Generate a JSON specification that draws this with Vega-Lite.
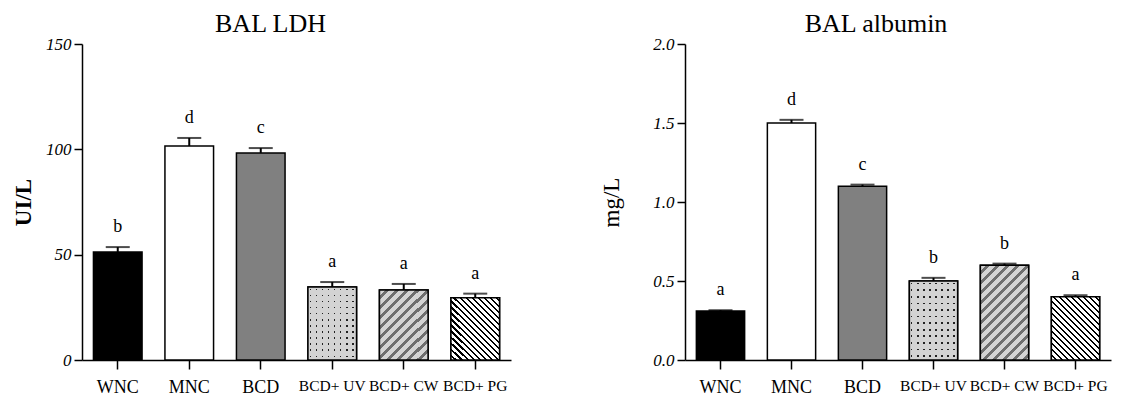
{
  "$schema": "https://vega.github.io/schema/vega-lite/v6.json",
  "background": "white",
  "padding": {"left": 12, "top": 11, "right": 5, "bottom": 0},
  "spacing": 89,
  "config": {
    "font": "Liberation Serif",
    "view": {"stroke": null},
    "axis": {"domainColor": "black", "domainWidth": 1.5, "tickColor": "black", "tickWidth": 1.5, "labelColor": "black", "titleColor": "black", "grid": false, "labelFont": "Liberation Serif", "titleFont": "Liberation Serif"},
    "axisY": {"labelFontSize": 17, "labelFontStyle": "italic", "tickSize": 8, "labelPadding": 3, "titleFontSize": 23},
    "axisX": {"labelAngle": 0, "tickSize": 9, "labelPadding": 9, "labelFontSize": {"condition": {"test": "length(datum.label) > 4", "value": 15.5}, "value": 18}},
    "title": {"font": "Liberation Serif", "fontSize": 26, "fontWeight": "normal", "color": "black"}
  },
  "datasets": {
    "d": [
      {"panel": "LDH", "group": "WNC", "mean": 51.3, "err": 53.6, "letter": "b"},
      {"panel": "LDH", "group": "MNC", "mean": 101.6, "err": 105.4, "letter": "d"},
      {"panel": "LDH", "group": "BCD", "mean": 98.3, "err": 100.6, "letter": "c"},
      {"panel": "LDH", "group": "BCD+ UV", "mean": 34.7, "err": 37.0, "letter": "a"},
      {"panel": "LDH", "group": "BCD+ CW", "mean": 33.2, "err": 36.1, "letter": "a"},
      {"panel": "LDH", "group": "BCD+ PG", "mean": 29.5, "err": 31.5, "letter": "a"},
      {"panel": "ALB", "group": "WNC", "mean": 0.31, "err": 0.315, "letter": "a"},
      {"panel": "ALB", "group": "MNC", "mean": 1.50, "err": 1.52, "letter": "d"},
      {"panel": "ALB", "group": "BCD", "mean": 1.10, "err": 1.11, "letter": "c"},
      {"panel": "ALB", "group": "BCD+ UV", "mean": 0.50, "err": 0.52, "letter": "b"},
      {"panel": "ALB", "group": "BCD+ CW", "mean": 0.60, "err": 0.61, "letter": "b"},
      {"panel": "ALB", "group": "BCD+ PG", "mean": 0.40, "err": 0.41, "letter": "a"}
    ]
  },
  "hconcat": [
    {
      "width": 429,
      "height": 316,
      "title": {"text": "BAL LDH", "dx": -26, "dy": 6},
      "data": {"name": "d"},
      "transform": [{"filter": "datum.panel === 'LDH'"}],
      "encoding": {
        "x": {"field": "group", "type": "nominal",
          "scale": {"domain": ["WNC", "MNC", "BCD", "BCD+ UV", "BCD+ CW", "BCD+ PG"], "paddingInner": 0.32, "paddingOuter": 0.16},
          "axis": {"title": null}}
      },
      "layer": [
        {
          "mark": {"type": "bar", "stroke": "black", "strokeWidth": 1.5},
          "encoding": {
            "y": {"field": "mean", "type": "quantitative", "scale": {"domain": [0, 150], "nice": false},
              "axis": {"title": "UI/L", "titleFontWeight": "bold", "titlePadding": 10, "labelFontSize": 17, "values": [0, 50, 100, 150]}},
            "fill": {"field": "group", "type": "nominal", "legend": null,
              "scale": {"domain": ["WNC", "MNC", "BCD", "BCD+ UV", "BCD+ CW", "BCD+ PG"], "range": ["#000000", "#ffffff", "#808080", "#222222", "#d3d3d3", "#ffffff"]}}
          }
        },
        {
          "transform": [{"filter": "datum.group === 'BCD+ UV'"}],
          "mark": {"type": "bar", "strokeWidth": 0, "fill": {"gradient": "linear", "x1": 0, "y1": -0.04, "x2": 0, "y2": 0.96, "stops": [
            {"offset": 0, "color": "#d3d3d3"}, {"offset": 0.0625, "color": "#d3d3d3"}, {"offset": 0.0625, "color": "rgba(0,0,0,0)"}, {"offset": 0.0833, "color": "rgba(0,0,0,0)"},
            {"offset": 0.0833, "color": "#d3d3d3"}, {"offset": 0.1458, "color": "#d3d3d3"}, {"offset": 0.1458, "color": "rgba(0,0,0,0)"}, {"offset": 0.1667, "color": "rgba(0,0,0,0)"},
            {"offset": 0.1667, "color": "#d3d3d3"}, {"offset": 0.2292, "color": "#d3d3d3"}, {"offset": 0.2292, "color": "rgba(0,0,0,0)"}, {"offset": 0.25, "color": "rgba(0,0,0,0)"},
            {"offset": 0.25, "color": "#d3d3d3"}, {"offset": 0.3125, "color": "#d3d3d3"}, {"offset": 0.3125, "color": "rgba(0,0,0,0)"}, {"offset": 0.3333, "color": "rgba(0,0,0,0)"},
            {"offset": 0.3333, "color": "#d3d3d3"}, {"offset": 0.3958, "color": "#d3d3d3"}, {"offset": 0.3958, "color": "rgba(0,0,0,0)"}, {"offset": 0.4167, "color": "rgba(0,0,0,0)"},
            {"offset": 0.4167, "color": "#d3d3d3"}, {"offset": 0.4792, "color": "#d3d3d3"}, {"offset": 0.4792, "color": "rgba(0,0,0,0)"}, {"offset": 0.5, "color": "rgba(0,0,0,0)"},
            {"offset": 0.5, "color": "#d3d3d3"}, {"offset": 0.5625, "color": "#d3d3d3"}, {"offset": 0.5625, "color": "rgba(0,0,0,0)"}, {"offset": 0.5833, "color": "rgba(0,0,0,0)"},
            {"offset": 0.5833, "color": "#d3d3d3"}, {"offset": 0.6458, "color": "#d3d3d3"}, {"offset": 0.6458, "color": "rgba(0,0,0,0)"}, {"offset": 0.6667, "color": "rgba(0,0,0,0)"},
            {"offset": 0.6667, "color": "#d3d3d3"}, {"offset": 0.7292, "color": "#d3d3d3"}, {"offset": 0.7292, "color": "rgba(0,0,0,0)"}, {"offset": 0.75, "color": "rgba(0,0,0,0)"},
            {"offset": 0.75, "color": "#d3d3d3"}, {"offset": 0.8125, "color": "#d3d3d3"}, {"offset": 0.8125, "color": "rgba(0,0,0,0)"}, {"offset": 0.8333, "color": "rgba(0,0,0,0)"},
            {"offset": 0.8333, "color": "#d3d3d3"}, {"offset": 0.8958, "color": "#d3d3d3"}, {"offset": 0.8958, "color": "rgba(0,0,0,0)"}, {"offset": 0.9167, "color": "rgba(0,0,0,0)"},
            {"offset": 0.9167, "color": "#d3d3d3"}, {"offset": 0.9792, "color": "#d3d3d3"}, {"offset": 0.9792, "color": "rgba(0,0,0,0)"}, {"offset": 1, "color": "rgba(0,0,0,0)"},
            {"offset": 1, "color": "#d3d3d3"}
          ]}},
          "encoding": {"y": {"field": "mean", "type": "quantitative"}}
        },
        {
          "transform": [{"filter": "datum.group === 'BCD+ UV'"}],
          "mark": {"type": "bar", "stroke": "black", "strokeWidth": 1.5, "fill": {"gradient": "linear", "x1": -0.06, "y1": 0, "x2": 0.94, "y2": 0, "stops": [
            {"offset": 0, "color": "#d3d3d3"}, {"offset": 0.094, "color": "#d3d3d3"}, {"offset": 0.094, "color": "rgba(0,0,0,0)"}, {"offset": 0.125, "color": "rgba(0,0,0,0)"},
            {"offset": 0.125, "color": "#d3d3d3"}, {"offset": 0.219, "color": "#d3d3d3"}, {"offset": 0.219, "color": "rgba(0,0,0,0)"}, {"offset": 0.25, "color": "rgba(0,0,0,0)"},
            {"offset": 0.25, "color": "#d3d3d3"}, {"offset": 0.344, "color": "#d3d3d3"}, {"offset": 0.344, "color": "rgba(0,0,0,0)"}, {"offset": 0.375, "color": "rgba(0,0,0,0)"},
            {"offset": 0.375, "color": "#d3d3d3"}, {"offset": 0.469, "color": "#d3d3d3"}, {"offset": 0.469, "color": "rgba(0,0,0,0)"}, {"offset": 0.5, "color": "rgba(0,0,0,0)"},
            {"offset": 0.5, "color": "#d3d3d3"}, {"offset": 0.594, "color": "#d3d3d3"}, {"offset": 0.594, "color": "rgba(0,0,0,0)"}, {"offset": 0.625, "color": "rgba(0,0,0,0)"},
            {"offset": 0.625, "color": "#d3d3d3"}, {"offset": 0.719, "color": "#d3d3d3"}, {"offset": 0.719, "color": "rgba(0,0,0,0)"}, {"offset": 0.75, "color": "rgba(0,0,0,0)"},
            {"offset": 0.75, "color": "#d3d3d3"}, {"offset": 0.844, "color": "#d3d3d3"}, {"offset": 0.844, "color": "rgba(0,0,0,0)"}, {"offset": 0.875, "color": "rgba(0,0,0,0)"},
            {"offset": 0.875, "color": "#d3d3d3"}, {"offset": 0.969, "color": "#d3d3d3"}, {"offset": 0.969, "color": "rgba(0,0,0,0)"}, {"offset": 1, "color": "rgba(0,0,0,0)"},
            {"offset": 1, "color": "#d3d3d3"}
          ]}},
          "encoding": {"y": {"field": "mean", "type": "quantitative"}}
        },
        {
          "transform": [{"filter": "datum.group === 'BCD+ CW'"}],
          "mark": {"type": "bar", "stroke": "black", "strokeWidth": 1.5, "fill": {"gradient": "linear", "x1": 0, "y1": 0, "x2": 1.2, "y2": 1.75, "stops": [
            {"offset": 0, "color": "#d3d3d3"}, {"offset": 0.0333, "color": "#d3d3d3"}, {"offset": 0.0333, "color": "#6e6e6e"}, {"offset": 0.0556, "color": "#6e6e6e"},
            {"offset": 0.0556, "color": "#d3d3d3"}, {"offset": 0.0889, "color": "#d3d3d3"}, {"offset": 0.0889, "color": "#6e6e6e"}, {"offset": 0.1111, "color": "#6e6e6e"},
            {"offset": 0.1111, "color": "#d3d3d3"}, {"offset": 0.1444, "color": "#d3d3d3"}, {"offset": 0.1444, "color": "#6e6e6e"}, {"offset": 0.1667, "color": "#6e6e6e"},
            {"offset": 0.1667, "color": "#d3d3d3"}, {"offset": 0.2, "color": "#d3d3d3"}, {"offset": 0.2, "color": "#6e6e6e"}, {"offset": 0.2222, "color": "#6e6e6e"},
            {"offset": 0.2222, "color": "#d3d3d3"}, {"offset": 0.2556, "color": "#d3d3d3"}, {"offset": 0.2556, "color": "#6e6e6e"}, {"offset": 0.2778, "color": "#6e6e6e"},
            {"offset": 0.2778, "color": "#d3d3d3"}, {"offset": 0.3111, "color": "#d3d3d3"}, {"offset": 0.3111, "color": "#6e6e6e"}, {"offset": 0.3333, "color": "#6e6e6e"},
            {"offset": 0.3333, "color": "#d3d3d3"}, {"offset": 0.3667, "color": "#d3d3d3"}, {"offset": 0.3667, "color": "#6e6e6e"}, {"offset": 0.3889, "color": "#6e6e6e"},
            {"offset": 0.3889, "color": "#d3d3d3"}, {"offset": 0.4222, "color": "#d3d3d3"}, {"offset": 0.4222, "color": "#6e6e6e"}, {"offset": 0.4444, "color": "#6e6e6e"},
            {"offset": 0.4444, "color": "#d3d3d3"}, {"offset": 0.4778, "color": "#d3d3d3"}, {"offset": 0.4778, "color": "#6e6e6e"}, {"offset": 0.5, "color": "#6e6e6e"},
            {"offset": 0.5, "color": "#d3d3d3"}, {"offset": 0.5333, "color": "#d3d3d3"}, {"offset": 0.5333, "color": "#6e6e6e"}, {"offset": 0.5556, "color": "#6e6e6e"},
            {"offset": 0.5556, "color": "#d3d3d3"}, {"offset": 0.5889, "color": "#d3d3d3"}, {"offset": 0.5889, "color": "#6e6e6e"}, {"offset": 0.6111, "color": "#6e6e6e"},
            {"offset": 0.6111, "color": "#d3d3d3"}, {"offset": 0.6444, "color": "#d3d3d3"}, {"offset": 0.6444, "color": "#6e6e6e"}, {"offset": 0.6667, "color": "#6e6e6e"},
            {"offset": 0.6667, "color": "#d3d3d3"}, {"offset": 0.7, "color": "#d3d3d3"}, {"offset": 0.7, "color": "#6e6e6e"}, {"offset": 0.7222, "color": "#6e6e6e"},
            {"offset": 0.7222, "color": "#d3d3d3"}, {"offset": 0.7556, "color": "#d3d3d3"}, {"offset": 0.7556, "color": "#6e6e6e"}, {"offset": 0.7778, "color": "#6e6e6e"},
            {"offset": 0.7778, "color": "#d3d3d3"}, {"offset": 0.8111, "color": "#d3d3d3"}, {"offset": 0.8111, "color": "#6e6e6e"}, {"offset": 0.8333, "color": "#6e6e6e"},
            {"offset": 0.8333, "color": "#d3d3d3"}, {"offset": 0.8667, "color": "#d3d3d3"}, {"offset": 0.8667, "color": "#6e6e6e"}, {"offset": 0.8889, "color": "#6e6e6e"},
            {"offset": 0.8889, "color": "#d3d3d3"}, {"offset": 0.9222, "color": "#d3d3d3"}, {"offset": 0.9222, "color": "#6e6e6e"}, {"offset": 0.9444, "color": "#6e6e6e"},
            {"offset": 0.9444, "color": "#d3d3d3"}, {"offset": 0.9778, "color": "#d3d3d3"}, {"offset": 0.9778, "color": "#6e6e6e"}, {"offset": 1, "color": "#6e6e6e"}
          ]}},
          "encoding": {"y": {"field": "mean", "type": "quantitative"}}
        },
        {
          "transform": [{"filter": "datum.group === 'BCD+ PG'"}],
          "mark": {"type": "bar", "stroke": "black", "strokeWidth": 1.5, "fill": {"gradient": "linear", "x1": 0, "y1": 1, "x2": 1.03, "y2": -0.33, "stops": [
            {"offset": 0, "color": "#ffffff"}, {"offset": 0.0295, "color": "#ffffff"}, {"offset": 0.0295, "color": "#000000"}, {"offset": 0.0455, "color": "#000000"},
            {"offset": 0.0455, "color": "#ffffff"}, {"offset": 0.075, "color": "#ffffff"}, {"offset": 0.075, "color": "#000000"}, {"offset": 0.0909, "color": "#000000"},
            {"offset": 0.0909, "color": "#ffffff"}, {"offset": 0.1205, "color": "#ffffff"}, {"offset": 0.1205, "color": "#000000"}, {"offset": 0.1364, "color": "#000000"},
            {"offset": 0.1364, "color": "#ffffff"}, {"offset": 0.1659, "color": "#ffffff"}, {"offset": 0.1659, "color": "#000000"}, {"offset": 0.1818, "color": "#000000"},
            {"offset": 0.1818, "color": "#ffffff"}, {"offset": 0.2114, "color": "#ffffff"}, {"offset": 0.2114, "color": "#000000"}, {"offset": 0.2273, "color": "#000000"},
            {"offset": 0.2273, "color": "#ffffff"}, {"offset": 0.2568, "color": "#ffffff"}, {"offset": 0.2568, "color": "#000000"}, {"offset": 0.2727, "color": "#000000"},
            {"offset": 0.2727, "color": "#ffffff"}, {"offset": 0.3023, "color": "#ffffff"}, {"offset": 0.3023, "color": "#000000"}, {"offset": 0.3182, "color": "#000000"},
            {"offset": 0.3182, "color": "#ffffff"}, {"offset": 0.3477, "color": "#ffffff"}, {"offset": 0.3477, "color": "#000000"}, {"offset": 0.3636, "color": "#000000"},
            {"offset": 0.3636, "color": "#ffffff"}, {"offset": 0.3932, "color": "#ffffff"}, {"offset": 0.3932, "color": "#000000"}, {"offset": 0.4091, "color": "#000000"},
            {"offset": 0.4091, "color": "#ffffff"}, {"offset": 0.4386, "color": "#ffffff"}, {"offset": 0.4386, "color": "#000000"}, {"offset": 0.4545, "color": "#000000"},
            {"offset": 0.4545, "color": "#ffffff"}, {"offset": 0.4841, "color": "#ffffff"}, {"offset": 0.4841, "color": "#000000"}, {"offset": 0.5, "color": "#000000"},
            {"offset": 0.5, "color": "#ffffff"}, {"offset": 0.5295, "color": "#ffffff"}, {"offset": 0.5295, "color": "#000000"}, {"offset": 0.5455, "color": "#000000"},
            {"offset": 0.5455, "color": "#ffffff"}, {"offset": 0.575, "color": "#ffffff"}, {"offset": 0.575, "color": "#000000"}, {"offset": 0.5909, "color": "#000000"},
            {"offset": 0.5909, "color": "#ffffff"}, {"offset": 0.6205, "color": "#ffffff"}, {"offset": 0.6205, "color": "#000000"}, {"offset": 0.6364, "color": "#000000"},
            {"offset": 0.6364, "color": "#ffffff"}, {"offset": 0.6659, "color": "#ffffff"}, {"offset": 0.6659, "color": "#000000"}, {"offset": 0.6818, "color": "#000000"},
            {"offset": 0.6818, "color": "#ffffff"}, {"offset": 0.7114, "color": "#ffffff"}, {"offset": 0.7114, "color": "#000000"}, {"offset": 0.7273, "color": "#000000"},
            {"offset": 0.7273, "color": "#ffffff"}, {"offset": 0.7568, "color": "#ffffff"}, {"offset": 0.7568, "color": "#000000"}, {"offset": 0.7727, "color": "#000000"},
            {"offset": 0.7727, "color": "#ffffff"}, {"offset": 0.8023, "color": "#ffffff"}, {"offset": 0.8023, "color": "#000000"}, {"offset": 0.8182, "color": "#000000"},
            {"offset": 0.8182, "color": "#ffffff"}, {"offset": 0.8477, "color": "#ffffff"}, {"offset": 0.8477, "color": "#000000"}, {"offset": 0.8636, "color": "#000000"},
            {"offset": 0.8636, "color": "#ffffff"}, {"offset": 0.8932, "color": "#ffffff"}, {"offset": 0.8932, "color": "#000000"}, {"offset": 0.9091, "color": "#000000"},
            {"offset": 0.9091, "color": "#ffffff"}, {"offset": 0.9386, "color": "#ffffff"}, {"offset": 0.9386, "color": "#000000"}, {"offset": 0.9545, "color": "#000000"},
            {"offset": 0.9545, "color": "#ffffff"}, {"offset": 0.9841, "color": "#ffffff"}, {"offset": 0.9841, "color": "#000000"}, {"offset": 1, "color": "#000000"}
          ]}},
          "encoding": {"y": {"field": "mean", "type": "quantitative"}}
        },
        {
          "mark": {"type": "rule", "color": "black", "strokeWidth": 2},
          "encoding": {"y": {"field": "mean", "type": "quantitative"}, "y2": {"field": "err"}}
        },
        {
          "mark": {"type": "tick", "color": "black", "thickness": 2, "size": 24, "orient": "horizontal"},
          "encoding": {"y": {"field": "err", "type": "quantitative"}}
        },
        {
          "mark": {"type": "text", "fontSize": 18, "dy": -20, "baseline": "middle", "color": "black", "font": "Liberation Serif"},
          "encoding": {"y": {"field": "err", "type": "quantitative"}, "text": {"field": "letter"}}
        }
      ]
    },
    {
      "width": 426,
      "height": 316,
      "title": {"text": "BAL albumin", "dx": -22, "dy": 6},
      "data": {"name": "d"},
      "transform": [{"filter": "datum.panel === 'ALB'"}],
      "encoding": {
        "x": {"field": "group", "type": "nominal",
          "scale": {"domain": ["WNC", "MNC", "BCD", "BCD+ UV", "BCD+ CW", "BCD+ PG"], "paddingInner": 0.32, "paddingOuter": 0.16},
          "axis": {"title": null}}
      },
      "layer": [
        {
          "mark": {"type": "bar", "stroke": "black", "strokeWidth": 1.5},
          "encoding": {
            "y": {"field": "mean", "type": "quantitative", "scale": {"domain": [0, 2], "nice": false},
              "axis": {"title": "mg/L", "titleFontWeight": "normal", "titlePadding": 29, "labelFontSize": 17, "format": ".1f", "values": [0, 0.5, 1, 1.5, 2]}},
            "fill": {"field": "group", "type": "nominal", "legend": null,
              "scale": {"domain": ["WNC", "MNC", "BCD", "BCD+ UV", "BCD+ CW", "BCD+ PG"], "range": ["#000000", "#ffffff", "#808080", "#222222", "#d3d3d3", "#ffffff"]}}
          }
        },
        {
          "transform": [{"filter": "datum.group === 'BCD+ UV'"}],
          "mark": {"type": "bar", "strokeWidth": 0, "fill": {"gradient": "linear", "x1": 0, "y1": -0.04, "x2": 0, "y2": 0.96, "stops": [
            {"offset": 0, "color": "#d3d3d3"}, {"offset": 0.0625, "color": "#d3d3d3"}, {"offset": 0.0625, "color": "rgba(0,0,0,0)"}, {"offset": 0.0833, "color": "rgba(0,0,0,0)"},
            {"offset": 0.0833, "color": "#d3d3d3"}, {"offset": 0.1458, "color": "#d3d3d3"}, {"offset": 0.1458, "color": "rgba(0,0,0,0)"}, {"offset": 0.1667, "color": "rgba(0,0,0,0)"},
            {"offset": 0.1667, "color": "#d3d3d3"}, {"offset": 0.2292, "color": "#d3d3d3"}, {"offset": 0.2292, "color": "rgba(0,0,0,0)"}, {"offset": 0.25, "color": "rgba(0,0,0,0)"},
            {"offset": 0.25, "color": "#d3d3d3"}, {"offset": 0.3125, "color": "#d3d3d3"}, {"offset": 0.3125, "color": "rgba(0,0,0,0)"}, {"offset": 0.3333, "color": "rgba(0,0,0,0)"},
            {"offset": 0.3333, "color": "#d3d3d3"}, {"offset": 0.3958, "color": "#d3d3d3"}, {"offset": 0.3958, "color": "rgba(0,0,0,0)"}, {"offset": 0.4167, "color": "rgba(0,0,0,0)"},
            {"offset": 0.4167, "color": "#d3d3d3"}, {"offset": 0.4792, "color": "#d3d3d3"}, {"offset": 0.4792, "color": "rgba(0,0,0,0)"}, {"offset": 0.5, "color": "rgba(0,0,0,0)"},
            {"offset": 0.5, "color": "#d3d3d3"}, {"offset": 0.5625, "color": "#d3d3d3"}, {"offset": 0.5625, "color": "rgba(0,0,0,0)"}, {"offset": 0.5833, "color": "rgba(0,0,0,0)"},
            {"offset": 0.5833, "color": "#d3d3d3"}, {"offset": 0.6458, "color": "#d3d3d3"}, {"offset": 0.6458, "color": "rgba(0,0,0,0)"}, {"offset": 0.6667, "color": "rgba(0,0,0,0)"},
            {"offset": 0.6667, "color": "#d3d3d3"}, {"offset": 0.7292, "color": "#d3d3d3"}, {"offset": 0.7292, "color": "rgba(0,0,0,0)"}, {"offset": 0.75, "color": "rgba(0,0,0,0)"},
            {"offset": 0.75, "color": "#d3d3d3"}, {"offset": 0.8125, "color": "#d3d3d3"}, {"offset": 0.8125, "color": "rgba(0,0,0,0)"}, {"offset": 0.8333, "color": "rgba(0,0,0,0)"},
            {"offset": 0.8333, "color": "#d3d3d3"}, {"offset": 0.8958, "color": "#d3d3d3"}, {"offset": 0.8958, "color": "rgba(0,0,0,0)"}, {"offset": 0.9167, "color": "rgba(0,0,0,0)"},
            {"offset": 0.9167, "color": "#d3d3d3"}, {"offset": 0.9792, "color": "#d3d3d3"}, {"offset": 0.9792, "color": "rgba(0,0,0,0)"}, {"offset": 1, "color": "rgba(0,0,0,0)"},
            {"offset": 1, "color": "#d3d3d3"}
          ]}},
          "encoding": {"y": {"field": "mean", "type": "quantitative"}}
        },
        {
          "transform": [{"filter": "datum.group === 'BCD+ UV'"}],
          "mark": {"type": "bar", "stroke": "black", "strokeWidth": 1.5, "fill": {"gradient": "linear", "x1": -0.06, "y1": 0, "x2": 0.94, "y2": 0, "stops": [
            {"offset": 0, "color": "#d3d3d3"}, {"offset": 0.094, "color": "#d3d3d3"}, {"offset": 0.094, "color": "rgba(0,0,0,0)"}, {"offset": 0.125, "color": "rgba(0,0,0,0)"},
            {"offset": 0.125, "color": "#d3d3d3"}, {"offset": 0.219, "color": "#d3d3d3"}, {"offset": 0.219, "color": "rgba(0,0,0,0)"}, {"offset": 0.25, "color": "rgba(0,0,0,0)"},
            {"offset": 0.25, "color": "#d3d3d3"}, {"offset": 0.344, "color": "#d3d3d3"}, {"offset": 0.344, "color": "rgba(0,0,0,0)"}, {"offset": 0.375, "color": "rgba(0,0,0,0)"},
            {"offset": 0.375, "color": "#d3d3d3"}, {"offset": 0.469, "color": "#d3d3d3"}, {"offset": 0.469, "color": "rgba(0,0,0,0)"}, {"offset": 0.5, "color": "rgba(0,0,0,0)"},
            {"offset": 0.5, "color": "#d3d3d3"}, {"offset": 0.594, "color": "#d3d3d3"}, {"offset": 0.594, "color": "rgba(0,0,0,0)"}, {"offset": 0.625, "color": "rgba(0,0,0,0)"},
            {"offset": 0.625, "color": "#d3d3d3"}, {"offset": 0.719, "color": "#d3d3d3"}, {"offset": 0.719, "color": "rgba(0,0,0,0)"}, {"offset": 0.75, "color": "rgba(0,0,0,0)"},
            {"offset": 0.75, "color": "#d3d3d3"}, {"offset": 0.844, "color": "#d3d3d3"}, {"offset": 0.844, "color": "rgba(0,0,0,0)"}, {"offset": 0.875, "color": "rgba(0,0,0,0)"},
            {"offset": 0.875, "color": "#d3d3d3"}, {"offset": 0.969, "color": "#d3d3d3"}, {"offset": 0.969, "color": "rgba(0,0,0,0)"}, {"offset": 1, "color": "rgba(0,0,0,0)"},
            {"offset": 1, "color": "#d3d3d3"}
          ]}},
          "encoding": {"y": {"field": "mean", "type": "quantitative"}}
        },
        {
          "transform": [{"filter": "datum.group === 'BCD+ CW'"}],
          "mark": {"type": "bar", "stroke": "black", "strokeWidth": 1.5, "fill": {"gradient": "linear", "x1": 0, "y1": 0, "x2": 0.763, "y2": 1.51, "stops": [
            {"offset": 0, "color": "#d3d3d3"}, {"offset": 0.0333, "color": "#d3d3d3"}, {"offset": 0.0333, "color": "#6e6e6e"}, {"offset": 0.0556, "color": "#6e6e6e"},
            {"offset": 0.0556, "color": "#d3d3d3"}, {"offset": 0.0889, "color": "#d3d3d3"}, {"offset": 0.0889, "color": "#6e6e6e"}, {"offset": 0.1111, "color": "#6e6e6e"},
            {"offset": 0.1111, "color": "#d3d3d3"}, {"offset": 0.1444, "color": "#d3d3d3"}, {"offset": 0.1444, "color": "#6e6e6e"}, {"offset": 0.1667, "color": "#6e6e6e"},
            {"offset": 0.1667, "color": "#d3d3d3"}, {"offset": 0.2, "color": "#d3d3d3"}, {"offset": 0.2, "color": "#6e6e6e"}, {"offset": 0.2222, "color": "#6e6e6e"},
            {"offset": 0.2222, "color": "#d3d3d3"}, {"offset": 0.2556, "color": "#d3d3d3"}, {"offset": 0.2556, "color": "#6e6e6e"}, {"offset": 0.2778, "color": "#6e6e6e"},
            {"offset": 0.2778, "color": "#d3d3d3"}, {"offset": 0.3111, "color": "#d3d3d3"}, {"offset": 0.3111, "color": "#6e6e6e"}, {"offset": 0.3333, "color": "#6e6e6e"},
            {"offset": 0.3333, "color": "#d3d3d3"}, {"offset": 0.3667, "color": "#d3d3d3"}, {"offset": 0.3667, "color": "#6e6e6e"}, {"offset": 0.3889, "color": "#6e6e6e"},
            {"offset": 0.3889, "color": "#d3d3d3"}, {"offset": 0.4222, "color": "#d3d3d3"}, {"offset": 0.4222, "color": "#6e6e6e"}, {"offset": 0.4444, "color": "#6e6e6e"},
            {"offset": 0.4444, "color": "#d3d3d3"}, {"offset": 0.4778, "color": "#d3d3d3"}, {"offset": 0.4778, "color": "#6e6e6e"}, {"offset": 0.5, "color": "#6e6e6e"},
            {"offset": 0.5, "color": "#d3d3d3"}, {"offset": 0.5333, "color": "#d3d3d3"}, {"offset": 0.5333, "color": "#6e6e6e"}, {"offset": 0.5556, "color": "#6e6e6e"},
            {"offset": 0.5556, "color": "#d3d3d3"}, {"offset": 0.5889, "color": "#d3d3d3"}, {"offset": 0.5889, "color": "#6e6e6e"}, {"offset": 0.6111, "color": "#6e6e6e"},
            {"offset": 0.6111, "color": "#d3d3d3"}, {"offset": 0.6444, "color": "#d3d3d3"}, {"offset": 0.6444, "color": "#6e6e6e"}, {"offset": 0.6667, "color": "#6e6e6e"},
            {"offset": 0.6667, "color": "#d3d3d3"}, {"offset": 0.7, "color": "#d3d3d3"}, {"offset": 0.7, "color": "#6e6e6e"}, {"offset": 0.7222, "color": "#6e6e6e"},
            {"offset": 0.7222, "color": "#d3d3d3"}, {"offset": 0.7556, "color": "#d3d3d3"}, {"offset": 0.7556, "color": "#6e6e6e"}, {"offset": 0.7778, "color": "#6e6e6e"},
            {"offset": 0.7778, "color": "#d3d3d3"}, {"offset": 0.8111, "color": "#d3d3d3"}, {"offset": 0.8111, "color": "#6e6e6e"}, {"offset": 0.8333, "color": "#6e6e6e"},
            {"offset": 0.8333, "color": "#d3d3d3"}, {"offset": 0.8667, "color": "#d3d3d3"}, {"offset": 0.8667, "color": "#6e6e6e"}, {"offset": 0.8889, "color": "#6e6e6e"},
            {"offset": 0.8889, "color": "#d3d3d3"}, {"offset": 0.9222, "color": "#d3d3d3"}, {"offset": 0.9222, "color": "#6e6e6e"}, {"offset": 0.9444, "color": "#6e6e6e"},
            {"offset": 0.9444, "color": "#d3d3d3"}, {"offset": 0.9778, "color": "#d3d3d3"}, {"offset": 0.9778, "color": "#6e6e6e"}, {"offset": 1, "color": "#6e6e6e"}
          ]}},
          "encoding": {"y": {"field": "mean", "type": "quantitative"}}
        },
        {
          "transform": [{"filter": "datum.group === 'BCD+ PG'"}],
          "mark": {"type": "bar", "stroke": "black", "strokeWidth": 1.5, "fill": {"gradient": "linear", "x1": 0, "y1": 1, "x2": 1.01, "y2": -0.32, "stops": [
            {"offset": 0, "color": "#ffffff"}, {"offset": 0.0295, "color": "#ffffff"}, {"offset": 0.0295, "color": "#000000"}, {"offset": 0.0455, "color": "#000000"},
            {"offset": 0.0455, "color": "#ffffff"}, {"offset": 0.075, "color": "#ffffff"}, {"offset": 0.075, "color": "#000000"}, {"offset": 0.0909, "color": "#000000"},
            {"offset": 0.0909, "color": "#ffffff"}, {"offset": 0.1205, "color": "#ffffff"}, {"offset": 0.1205, "color": "#000000"}, {"offset": 0.1364, "color": "#000000"},
            {"offset": 0.1364, "color": "#ffffff"}, {"offset": 0.1659, "color": "#ffffff"}, {"offset": 0.1659, "color": "#000000"}, {"offset": 0.1818, "color": "#000000"},
            {"offset": 0.1818, "color": "#ffffff"}, {"offset": 0.2114, "color": "#ffffff"}, {"offset": 0.2114, "color": "#000000"}, {"offset": 0.2273, "color": "#000000"},
            {"offset": 0.2273, "color": "#ffffff"}, {"offset": 0.2568, "color": "#ffffff"}, {"offset": 0.2568, "color": "#000000"}, {"offset": 0.2727, "color": "#000000"},
            {"offset": 0.2727, "color": "#ffffff"}, {"offset": 0.3023, "color": "#ffffff"}, {"offset": 0.3023, "color": "#000000"}, {"offset": 0.3182, "color": "#000000"},
            {"offset": 0.3182, "color": "#ffffff"}, {"offset": 0.3477, "color": "#ffffff"}, {"offset": 0.3477, "color": "#000000"}, {"offset": 0.3636, "color": "#000000"},
            {"offset": 0.3636, "color": "#ffffff"}, {"offset": 0.3932, "color": "#ffffff"}, {"offset": 0.3932, "color": "#000000"}, {"offset": 0.4091, "color": "#000000"},
            {"offset": 0.4091, "color": "#ffffff"}, {"offset": 0.4386, "color": "#ffffff"}, {"offset": 0.4386, "color": "#000000"}, {"offset": 0.4545, "color": "#000000"},
            {"offset": 0.4545, "color": "#ffffff"}, {"offset": 0.4841, "color": "#ffffff"}, {"offset": 0.4841, "color": "#000000"}, {"offset": 0.5, "color": "#000000"},
            {"offset": 0.5, "color": "#ffffff"}, {"offset": 0.5295, "color": "#ffffff"}, {"offset": 0.5295, "color": "#000000"}, {"offset": 0.5455, "color": "#000000"},
            {"offset": 0.5455, "color": "#ffffff"}, {"offset": 0.575, "color": "#ffffff"}, {"offset": 0.575, "color": "#000000"}, {"offset": 0.5909, "color": "#000000"},
            {"offset": 0.5909, "color": "#ffffff"}, {"offset": 0.6205, "color": "#ffffff"}, {"offset": 0.6205, "color": "#000000"}, {"offset": 0.6364, "color": "#000000"},
            {"offset": 0.6364, "color": "#ffffff"}, {"offset": 0.6659, "color": "#ffffff"}, {"offset": 0.6659, "color": "#000000"}, {"offset": 0.6818, "color": "#000000"},
            {"offset": 0.6818, "color": "#ffffff"}, {"offset": 0.7114, "color": "#ffffff"}, {"offset": 0.7114, "color": "#000000"}, {"offset": 0.7273, "color": "#000000"},
            {"offset": 0.7273, "color": "#ffffff"}, {"offset": 0.7568, "color": "#ffffff"}, {"offset": 0.7568, "color": "#000000"}, {"offset": 0.7727, "color": "#000000"},
            {"offset": 0.7727, "color": "#ffffff"}, {"offset": 0.8023, "color": "#ffffff"}, {"offset": 0.8023, "color": "#000000"}, {"offset": 0.8182, "color": "#000000"},
            {"offset": 0.8182, "color": "#ffffff"}, {"offset": 0.8477, "color": "#ffffff"}, {"offset": 0.8477, "color": "#000000"}, {"offset": 0.8636, "color": "#000000"},
            {"offset": 0.8636, "color": "#ffffff"}, {"offset": 0.8932, "color": "#ffffff"}, {"offset": 0.8932, "color": "#000000"}, {"offset": 0.9091, "color": "#000000"},
            {"offset": 0.9091, "color": "#ffffff"}, {"offset": 0.9386, "color": "#ffffff"}, {"offset": 0.9386, "color": "#000000"}, {"offset": 0.9545, "color": "#000000"},
            {"offset": 0.9545, "color": "#ffffff"}, {"offset": 0.9841, "color": "#ffffff"}, {"offset": 0.9841, "color": "#000000"}, {"offset": 1, "color": "#000000"}
          ]}},
          "encoding": {"y": {"field": "mean", "type": "quantitative"}}
        },
        {
          "mark": {"type": "rule", "color": "black", "strokeWidth": 2},
          "encoding": {"y": {"field": "mean", "type": "quantitative"}, "y2": {"field": "err"}}
        },
        {
          "mark": {"type": "tick", "color": "black", "thickness": 2, "size": 24, "orient": "horizontal"},
          "encoding": {"y": {"field": "err", "type": "quantitative"}}
        },
        {
          "mark": {"type": "text", "fontSize": 18, "dy": -20, "baseline": "middle", "color": "black", "font": "Liberation Serif"},
          "encoding": {"y": {"field": "err", "type": "quantitative"}, "text": {"field": "letter"}}
        }
      ]
    }
  ]
}
